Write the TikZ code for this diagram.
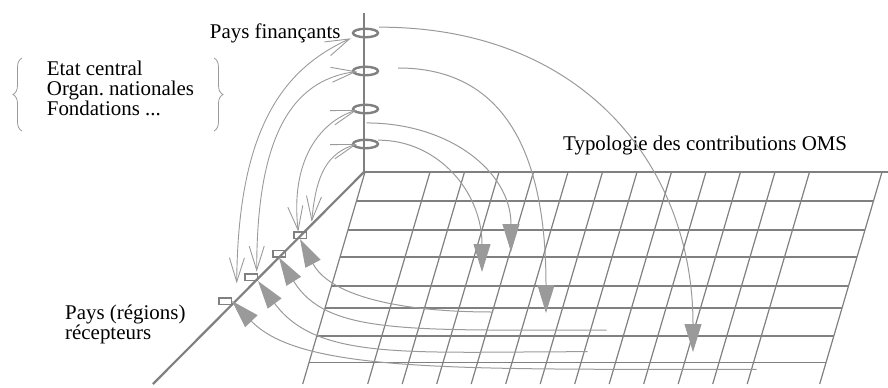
\documentclass[tikz,border=0pt]{standalone}
\usepackage{fontspec}
\setmainfont{Liberation Serif}
\usepackage{xcolor}
\definecolor{cAxis}{HTML}{808080}
\definecolor{cFlow}{HTML}{9A9A9A}
\usepackage{tikz}
\usetikzlibrary{positioning,arrows.meta,shapes.geometric,decorations.pathreplacing}
\tikzset{
  node-fin/.style={draw=cAxis,line width=2.4bp,ellipse,inner sep=0pt,
    minimum width=25bp,minimum height=8.5bp},
  node-rec/.style={draw=cAxis,line width=1.5bp,rectangle,inner sep=0pt,
    minimum width=12.5bp,minimum height=6.5bp},
  node-label/.style={font=\fontsize{21}{20}\selectfont,inner sep=0pt,align=left},
  axis-line/.style={draw=cAxis,line width=2.7bp},
  axis-diag/.style={draw=cAxis,line width=2.2bp},
  grid-row/.style={draw=cAxis,line width=1.9bp},
  grid-slant/.style={draw=cAxis,line width=1.2bp},
  % fleches pleines (vers la grille / retour vers les pays)
  arrow-big/.style={-{Triangle[length=28bp,width=17bp]},draw=cFlow,line width=1bp},
  arrow-link/.style={{Straight Barb[length=24bp,width=15bp]}-{Straight Barb[length=24bp,width=15bp]},
    draw=cFlow,line width=0.9bp},
  group-brace/.style={draw=cFlow,line width=0.8bp,decorate,
    decoration={brace,amplitude=9bp}},
}
\begin{document}
\begin{tikzpicture}[x=1bp,y=-1bp]
  \useasboundingbox (0,0) rectangle (888,387);
  % grille
  \foreach \y in {201,230,257,286,308,336,362.5}
    \draw[grid-row] ({365-0.294*(\y-172)},\y) -- ({882-0.294*(\y-172)},\y);
  \foreach \k in {0,...,11}
    \draw[grid-slant] ({430+34.5*\k},172) -- ({367.7+34.5*\k},384);
  \draw[grid-slant] (365,172) -- (302.7,384);
  \draw[grid-slant] (882,172) -- (819.7,384);
  % axes
  \coordinate (origin) at (364,172);
  \draw[axis-line] (364,13) -- (origin) -- (888,172);
  \draw[axis-diag] (origin) -- (153,384);

  \node[node-fin] (fin-1) at (365.5,33) {};
  \node[node-fin] (fin-2) at (365.5,71) {};
  \node[node-fin] (fin-3) at (365.5,109) {};
  \node[node-fin] (fin-4) at (365.5,144) {};
  \node[node-rec] (rec-1) at (300,235) {};
  \node[node-rec] (rec-2) at (279,253.5) {};
  \node[node-rec] (rec-3) at (251,277) {};
  \node[node-rec] (rec-4) at (225,301) {};

  \node[node-label,left=11bp of fin-1] (lbl-fin) {Pays finançants};
  \node[node-label,anchor=north west] (lbl-grp) at (46.7,60.5)
    {Etat central\\Organ.\ nationales\\Fondations ...};
  \draw[group-brace] (22,131) -- (22,58);
  \draw[group-brace] (214,58) -- (214,131);
  \node[node-label,anchor=base west] (lbl-typ) at (563,150) {Typologie des contributions OMS};
  \node[node-label,anchor=north west] (lbl-rec) at (65,305) {Pays (régions)\\récepteurs};

  \coordinate (tgt-1) at (693,352);
  \coordinate (tgt-2) at (546,313);
  \coordinate (tgt-3) at (511,252);
  \coordinate (tgt-4) at (482,272);
  \draw[arrow-big] ([shift={(4,-2)}]fin-1.north east) .. controls (585,27) and (693,168) .. (tgt-1);
  \draw[arrow-big] ([shift={(19,-3)}]fin-2.east) .. controls (498,68) and (546,143) .. (tgt-2);
  \draw[arrow-big] ([shift={(1,8.5)}]fin-3.south) .. controls (450,123) and (511,172) .. (tgt-3);
  \draw[arrow-big] ([shift={(3,0)}]fin-4.north east) .. controls (438,140) and (482,192) .. (tgt-4);

  \coordinate (src-1) at (493,312);
  \coordinate (src-2) at (606.6,330);
  \coordinate (src-3) at (587.7,351.7);
  \coordinate (src-4) at (756.5,369.3);
  \draw[arrow-big] (src-1) .. controls (393,312) and (329,294) .. (rec-1.south);
  \draw[arrow-big] (src-2) .. controls (406.6,330) and (326.8,334.8) .. (rec-2.south);
  \draw[arrow-big] (src-3) .. controls (407.7,351.7) and (317.3,361) .. (rec-3.south east);
  \draw[arrow-big] (src-4) .. controls (456.5,369.3) and (301,372.7) .. (rec-4.east);

  \coordinate (drop-1) at (236.7,283.3);
  \coordinate (drop-2) at (256.7,271.7);
  \coordinate (drop-3) at (298.3,231.7);
  \coordinate (drop-4) at (311.7,221.7);
  \draw[arrow-link] ([shift={(-5,1.5)}]fin-1.south west) .. controls (280,70) and (238,133.3) .. (drop-1);
  \draw[arrow-link] ([shift={(5,0.5)}]fin-2.west) .. controls (288.7,80.3) and (256.7,141.7) .. (drop-2);
  \draw[arrow-link] ([shift={(5,1)}]fin-3.west) .. controls (319,122) and (290,161.7) .. (drop-3);
  \draw[arrow-link] ([shift={(5,0)}]fin-4.west) .. controls (328.5,153) and (316.2,171.7) .. (drop-4);
\end{tikzpicture}
\end{document}
